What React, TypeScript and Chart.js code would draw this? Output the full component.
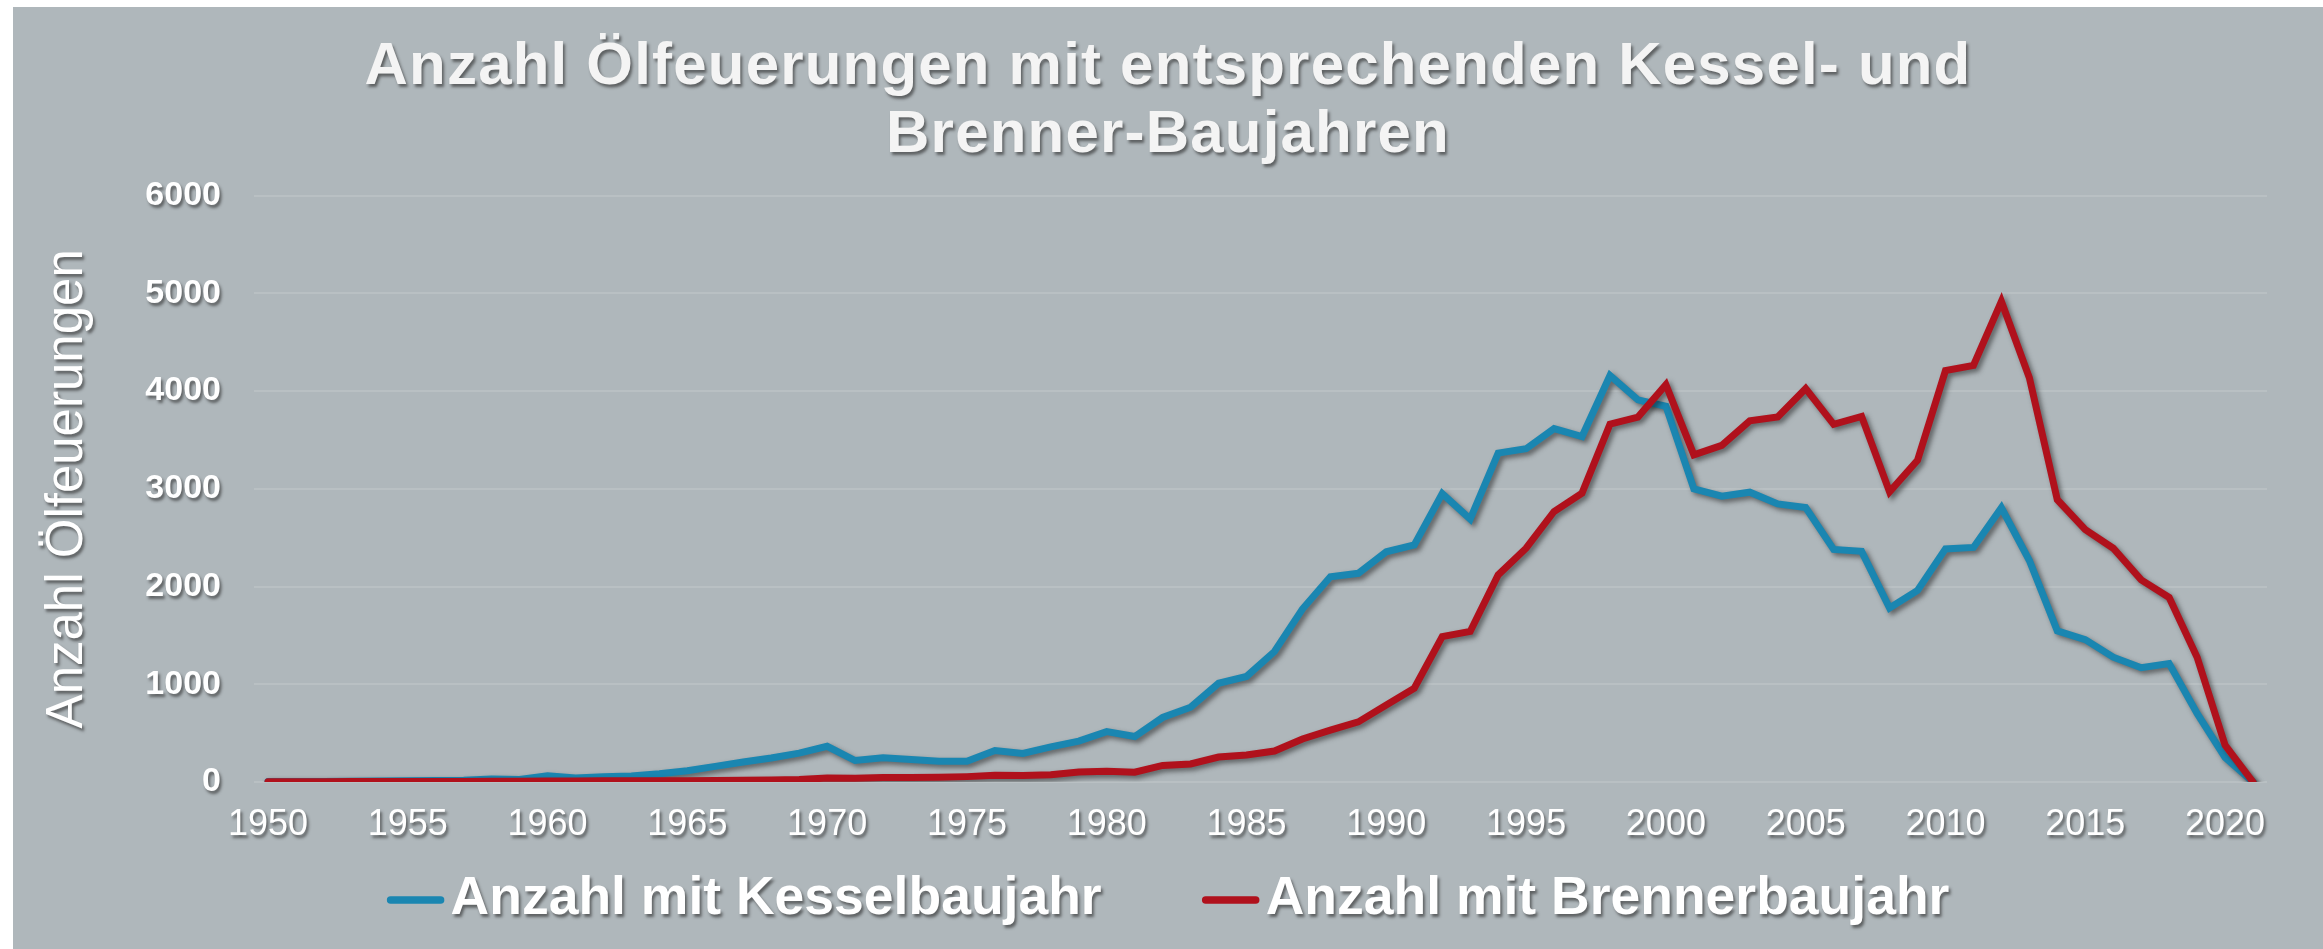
import React, { useEffect, useRef } from 'react';
import { Chart, registerables } from 'chart.js';

Chart.register(...registerables);

// ---- Data ----
const years: string[] = [];
for (let y = 1950; y <= 2021; y++) years.push(String(y));

const kesselValues: number[] = [
  5, 5, 5, 8, 10, 12, 15, 18, 30, 25, // 1950-1959
  65, 40, 55, 62, 85, 115, 160, 205, 245, 295, // 1960-1969
  365, 220, 248, 230, 212, 212, 322, 292, 360, 418, // 1970-1979
  515, 465, 660, 765, 1010, 1080, 1335, 1770, 2100, 2135, // 1980-1989
  2355, 2425, 2950, 2690, 3365, 3410, 3615, 3535, 4160, 3910, // 1990-1999
  3845, 3000, 2925, 2965, 2845, 2808, 2380, 2360, 1780, 1960, // 2000-2009
  2385, 2400, 2806, 2266, 1547, 1457, 1277, 1169, 1212, 701, // 2010-2019
  252, 0, // 2020-2021
];

const brennerValues: number[] = [
  3, 3, 3, 4, 4, 5, 5, 6, 7, 8, // 1950-1959
  10, 10, 12, 12, 13, 14, 15, 17, 20, 25, // 1960-1969
  40, 38, 45, 47, 48, 55, 68, 67, 75, 103, // 1970-1979
  110, 100, 170, 185, 255, 276, 317, 440, 530, 615, // 1980-1989
  788, 960, 1488, 1540, 2119, 2392, 2768, 2956, 3662, 3734, // 1990-1999
  4065, 3348, 3444, 3696, 3734, 4025, 3660, 3741, 2968, 3291, // 2000-2009
  4209, 4263, 4917, 4137, 2888, 2583, 2392, 2068, 1888, 1277, // 2010-2019
  378, 0, // 2020-2021
];

const seriesLabels: string[] = ['Anzahl mit Kesselbaujahr', 'Anzahl mit Brennerbaujahr'];
const seriesColors: string[] = ['#1a86b1', '#b0111c'];
const titleLines: string[] = ['Anzahl Ölfeuerungen mit entsprechenden Kessel- und', 'Brenner-Baujahren'];
const yAxisTitle = 'Anzahl Ölfeuerungen';
const yTicks: number[] = [0, 1000, 2000, 3000, 4000, 5000, 6000];

const W = 2323;
const H = 949;
const FONT = '"Liberation Sans", Arial, Helvetica, sans-serif';
const BG = '#afb7bb';
const TITLE_SIZE = 60;

const shadowTextPlugin = {
  id: 'shadowText',
  beforeInit(chart: any) {
    const ctx = chart.ctx as any;
    if (ctx.__shadowPatched) return;
    ctx.__shadowPatched = true;
    const orig = ctx.fillText.bind(ctx);
    ctx.fillText = (text: string, x: number, y: number, maxWidth?: number) => {
      ctx.save();
      ctx.shadowColor = 'rgba(40,40,40,0.6)';
      ctx.shadowOffsetX = 2;
      ctx.shadowOffsetY = 3;
      ctx.shadowBlur = 3;
      if (typeof ctx.font === 'string' && ctx.font.indexOf(TITLE_SIZE + 'px') >= 0) {
        ctx.letterSpacing = '1.2px';
      }
      if (maxWidth === undefined || maxWidth === null) orig(text, x, y);
      else orig(text, x, y, maxWidth);
      ctx.restore();
    };
  },
};

const backgroundPlugin = {
  id: 'bg',
  beforeDraw(chart: any) {
    const ctx = chart.ctx;
    ctx.save();
    ctx.fillStyle = '#ffffff';
    ctx.fillRect(0, 0, chart.width, chart.height);
    ctx.fillStyle = BG;
    ctx.fillRect(13, 7, chart.width - 13, chart.height - 7);
    ctx.restore();
  },
};

const lineShadowPlugin = {
  id: 'lineShadow',
  beforeDatasetsDraw(chart: any) {
    const ctx = chart.ctx;
    ctx.save();
    ctx.shadowColor = 'rgba(30,30,30,0.55)';
    ctx.shadowOffsetX = 3;
    ctx.shadowOffsetY = 3;
    ctx.shadowBlur = 5;
  },
  afterDatasetsDraw(chart: any) {
    chart.ctx.restore();
  },
};

const customLegendPlugin = {
  id: 'customLegend',
  afterDraw(chart: any) {
    const ctx = chart.ctx;
    ctx.save();
    ctx.font = `bold 53.5px ${FONT}`;
    const sw = 58;
    const gap = 6;
    const itemGap = 100;
    const items = chart.data.datasets.map((d: any) => ({
      label: d.label as string,
      color: d.borderColor as string,
      w: ctx.measureText(d.label).width,
    }));
    let total = 0;
    items.forEach((it: any, i: number) => {
      total += sw + gap + it.w + (i < items.length - 1 ? itemGap : 0);
    });
    let x = (13 + W) / 2 - total / 2;
    const y = 899;
    items.forEach((it: any) => {
      ctx.save();
      ctx.strokeStyle = it.color;
      ctx.lineWidth = 7.5;
      ctx.lineCap = 'round';
      ctx.beginPath();
      ctx.moveTo(x + 4, y + 1);
      ctx.lineTo(x + sw - 4, y + 1);
      ctx.stroke();
      ctx.restore();
      ctx.fillStyle = '#ffffff';
      ctx.textBaseline = 'middle';
      ctx.textAlign = 'left';
      ctx.fillText(it.label, x + sw + gap, y);
      x += sw + gap + it.w + itemGap;
    });
    ctx.restore();
  },
};

export default function App() {
  const ref = useRef<HTMLCanvasElement | null>(null);

  useEffect(() => {
    const canvas = ref.current;
    if (!canvas) return;
    const chart = new Chart(canvas, {
      type: 'line',
      data: {
        labels: years,
        datasets: [
          {
            label: seriesLabels[0],
            data: kesselValues,
            borderColor: seriesColors[0],
            backgroundColor: seriesColors[0],
            borderWidth: 7,
            pointRadius: 0,
            tension: 0,
            borderCapStyle: 'round',
            order: 1,
          },
          {
            label: seriesLabels[1],
            data: brennerValues,
            borderColor: seriesColors[1],
            backgroundColor: seriesColors[1],
            borderWidth: 7,
            pointRadius: 0,
            tension: 0,
            borderCapStyle: 'round',
            order: 0,
          },
        ],
      },
      options: {
        responsive: false,
        animation: false,
        devicePixelRatio: 1,
        layout: { padding: { left: 13, right: 0, top: 0, bottom: 87 } },
        plugins: {
          legend: { display: false },
          tooltip: { enabled: false },
          title: {
            display: true,
            text: titleLines,
            color: '#f4f4f4',
            font: { family: FONT, size: TITLE_SIZE, weight: 'bold', lineHeight: 1.13 },
            padding: { top: 34, bottom: 26 },
          },
        },
        scales: {
          x: {
            type: 'category',
            offset: true,
            grid: { display: false, drawTicks: false },
            border: { display: false },
            ticks: {
              autoSkip: false,
              maxRotation: 0,
              minRotation: 0,
              padding: 21,
              color: '#ffffff',
              font: { family: FONT, size: 36, lineHeight: 1.2 },
              callback: (_v: any, i: number) => (Number(years[i]) % 5 === 0 ? years[i] : ''),
            },
            afterFit: (scale: any) => {
              scale.height = 80;
            },
          },
          y: {
            min: 0,
            max: 6000,
            afterBuildTicks: (scale: any) => {
              scale.ticks = yTicks.map((v) => ({ value: v }));
            },
            grid: { color: 'rgba(255,255,255,0.13)', lineWidth: 2, drawTicks: false },
            border: { display: false },
            ticks: {
              padding: 33,
              color: '#ffffff',
              font: { family: FONT, size: 34, weight: 'bold' },
              callback: (v: any) => String(v),
            },
            title: {
              display: true,
              text: yAxisTitle,
              color: '#ffffff',
              font: { family: FONT, size: 51, lineHeight: 1.2 },
              padding: { top: 24, bottom: 0 },
            },
            afterFit: (scale: any) => {
              scale.width = 241;
            },
          },
          yRight: {
            position: 'right',
            min: 0,
            max: 6000,
            grid: { display: false, drawTicks: false },
            border: { display: false },
            ticks: { display: false },
            afterFit: (scale: any) => {
              scale.width = 56;
            },
          },
        },
      },
      plugins: [shadowTextPlugin, backgroundPlugin, lineShadowPlugin, customLegendPlugin],
    } as any);
    return () => chart.destroy();
  }, []);

  return (
    <div style={{ position: 'fixed', left: 0, top: 0, width: W, height: H, background: '#fff' }}>
      <canvas ref={ref} width={W} height={H} style={{ display: 'block', width: W, height: H }} />
    </div>
  );
}
